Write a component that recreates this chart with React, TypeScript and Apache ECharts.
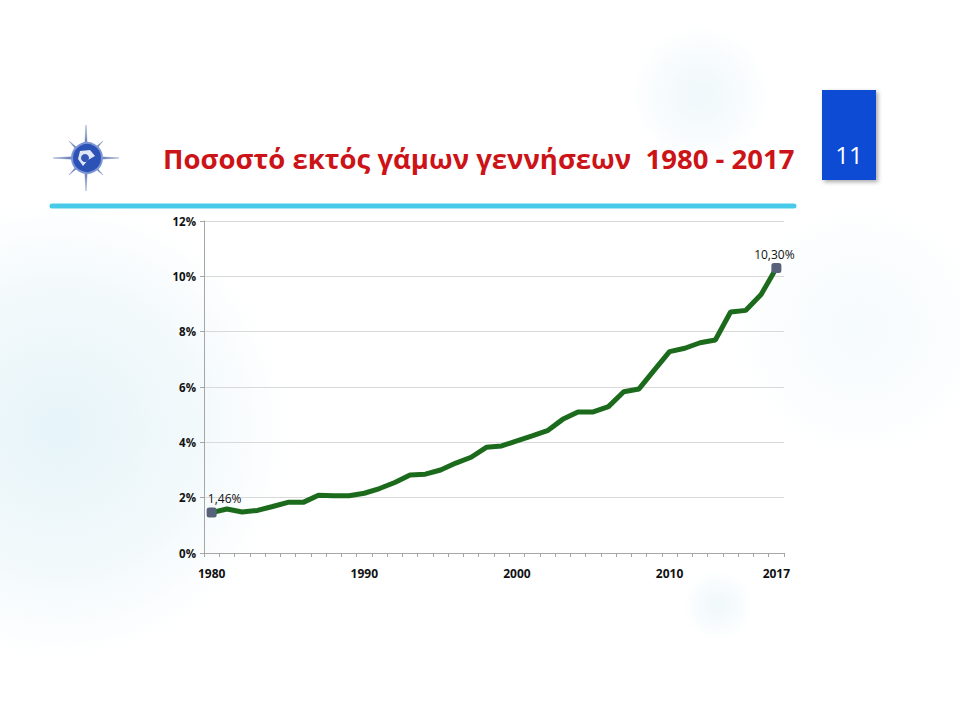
import React, { useEffect, useRef } from "react";
import * as echarts from "echarts";

const years = [
  "1980", "1981", "1982", "1983", "1984", "1985", "1986", "1987", "1988", "1989",
  "1990", "1991", "1992", "1993", "1994", "1995", "1996", "1997", "1998", "1999",
  "2000", "2001", "2002", "2003", "2004", "2005", "2006", "2007", "2008", "2009",
  "2010", "2011", "2012", "2013", "2014", "2015", "2016", "2017",
];

const shares = [
  1.46, 1.59, 1.48, 1.54, 1.68, 1.83, 1.83, 2.09, 2.07, 2.07,
  2.16, 2.33, 2.55, 2.82, 2.85, 3.0, 3.25, 3.46, 3.82, 3.87,
  4.05, 4.23, 4.42, 4.83, 5.1, 5.1, 5.29, 5.83, 5.93, 6.61,
  7.28, 7.4, 7.6, 7.7, 8.71, 8.77, 9.34, 10.3,
];

const shownYearLabels = ["1980", "1990", "2000", "2010", "2017"];
const titleText = "Ποσοστό εκτός γάμων γεννήσεων  1980 - 2017";
const pageNumber = "11";

function haze(cx: number, cy: number, r: number, color: string, alpha: number) {
  return {
    type: "circle",
    z: -10,
    silent: true,
    shape: { cx, cy, r },
    style: {
      fill: new echarts.graphic.RadialGradient(0.5, 0.5, 0.5, [
        { offset: 0, color: `rgba(${color},${alpha})` },
        { offset: 0.6, color: `rgba(${color},${alpha * 0.5})` },
        { offset: 1, color: `rgba(${color},0)` },
      ]),
    },
  };
}

function starPoints(cx: number, cy: number) {
  const pts: number[][] = [];
  for (let i = 0; i < 16; i++) {
    const ang = (i * Math.PI) / 8 - Math.PI / 2;
    let r = 5;
    if (i % 4 === 0) r = 33;
    else if (i % 2 === 0) r = 24;
    pts.push([cx + r * Math.cos(ang), cy + r * Math.sin(ang)]);
  }
  return pts;
}

export default function App() {
  const ref = useRef<HTMLDivElement>(null);
  useEffect(() => {
    if (!ref.current) return;
    const chart = echarts.init(ref.current, null, { renderer: "svg" });
    const lcx = 86;
    const lcy = 158;
    const data = shares.map((v, i) => {
      const isEnd = i === 0 || i === shares.length - 1;
      return isEnd
        ? {
            value: v,
            symbol: "roundRect",
            symbolSize: 10,
            label: {
              show: true,
              position: "top",
              distance: 3,
              offset: i === 0 ? [13, 0] : [-2, 0],
              fontSize: 12,
              color: "#111",
              fontFamily: "Open Sans, sans-serif",
              formatter: (p: any) => p.value.toFixed(2).replace(".", ",") + "%",
            },
          }
        : { value: v, symbol: "none" };
    });
    chart.setOption({
      animation: false,
      backgroundColor: "#ffffff",
      grid: { left: 204, right: 176, top: 221, bottom: 167 },
      xAxis: {
        type: "category",
        data: years,
        boundaryGap: true,
        axisLine: { lineStyle: { color: "#a6a6a6", width: 1 } },
        axisTick: { show: true, interval: 0, length: 4, lineStyle: { color: "#a6a6a6" } },
        axisLabel: {
          interval: (_i: number, v: string) => shownYearLabels.includes(v),
          margin: 14,
          fontSize: 12,
          fontWeight: "bold",
          color: "#111",
          fontFamily: "Open Sans, sans-serif",
        },
        splitLine: { show: false },
      },
      yAxis: {
        type: "value",
        min: 0,
        max: 12,
        interval: 2,
        axisLine: { show: true, lineStyle: { color: "#a6a6a6", width: 1 } },
        axisTick: { show: true, length: 4, lineStyle: { color: "#a6a6a6" } },
        axisLabel: {
          formatter: "{value}%",
          margin: 8,
          fontSize: 11.5,
          fontWeight: "bold",
          color: "#111",
          fontFamily: "Open Sans, sans-serif",
        },
        splitLine: { lineStyle: { color: "#d9d9d9", width: 1 } },
      },
      series: [
        {
          type: "line",
          data,
          itemStyle: { color: "#55627a" },
          lineStyle: { color: "#1c6b1c", width: 5 },
          z: 3,
        },
      ],
      graphic: [
        haze(60, 430, 230, "200,230,240", 0.45),
        haze(700, 95, 70, "205,232,242", 0.3),
        haze(860, 330, 130, "218,238,245", 0.25),
        haze(718, 605, 35, "205,232,242", 0.3),
        {
          type: "polygon",
          z: 5,
          shape: { points: starPoints(lcx, lcy) },
          style: { fill: "#6e81b4", stroke: "#8ea0cc", lineWidth: 0.5 },
        },
        {
          type: "circle",
          z: 6,
          shape: { cx: lcx + 1, cy: lcy, r: 15 },
          style: { fill: "#2d52b6", stroke: "#7d95d6", lineWidth: 2 },
        },
        {
          type: "polygon",
          z: 7,
          shape: {
            points: [
              [lcx - 6, lcy - 7],
              [lcx + 4, lcy - 8],
              [lcx + 9, lcy - 2],
              [lcx + 2, lcy + 2],
              [lcx - 3, lcy + 8],
              [lcx - 8, lcy + 1],
            ],
          },
          style: { fill: "#dfe6f6" },
        },
        {
          type: "circle",
          z: 8,
          shape: { cx: lcx - 1, cy: lcy, r: 4 },
          style: { fill: "#3356b8" },
        },
        {
          type: "text",
          z: 5,
          x: 163,
          y: 158,
          style: {
            text: titleText,
            fill: "#cc1418",
            font: "bold 27.5px 'Open Sans', sans-serif",
            textVerticalAlign: "middle",
          },
        },
        {
          type: "line",
          z: 5,
          shape: { x1: 52, y1: 206, x2: 794, y2: 206 },
          style: { stroke: "#47cbe8", lineWidth: 5, lineCap: "round" },
        },
        {
          type: "rect",
          z: 5,
          shape: { x: 822, y: 90, width: 54, height: 90 },
          style: {
            fill: "#0b4cd4",
            shadowBlur: 4,
            shadowOffsetX: 2,
            shadowOffsetY: 2,
            shadowColor: "rgba(0,0,0,0.35)",
          },
        },
        {
          type: "text",
          z: 6,
          x: 849,
          y: 154,
          style: {
            text: pageNumber,
            fill: "#ffffff",
            font: "24px 'Open Sans', sans-serif",
            textAlign: "center",
            textVerticalAlign: "middle",
          },
        },
      ],
    });
    return () => chart.dispose();
  }, []);
  return (
    <div
      ref={ref}
      style={{ position: "fixed", left: 0, top: 0, width: 960, height: 720 }}
    />
  );
}
